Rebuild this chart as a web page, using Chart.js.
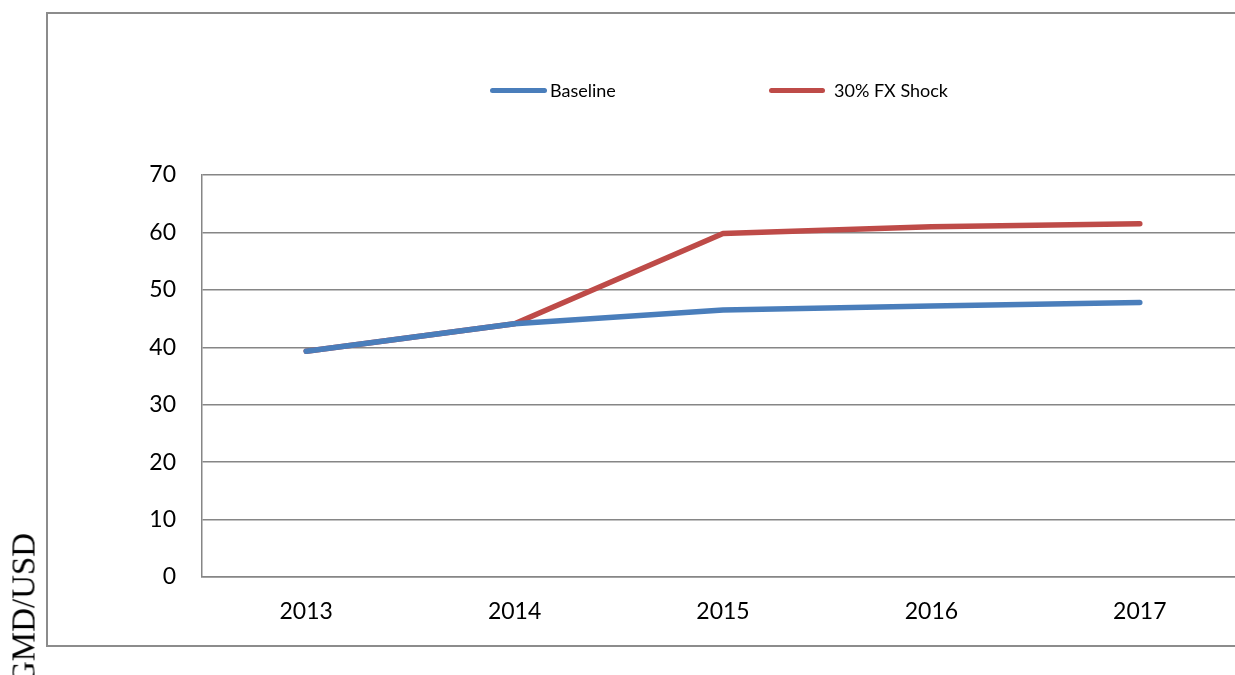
<!DOCTYPE html>
<html>
<head>
<meta charset="utf-8">
<script src="https://cdn.jsdelivr.net/npm/chart.js@4"></script>
<style>
  html, body { margin: 0; padding: 0; background: #fff; overflow: hidden; }
  body { width: 1235px; height: 675px; position: relative; }
  #frame { position: absolute; left: 46px; top: 12px; width: 1300px; height: 631px; border: 2px solid #8c8c8c; }
  #wrap { position: absolute; left: 0; top: 0; width: 1300px; height: 675px; }
  #ylabel { position: absolute; left: 24px; top: 609px; font-family: "Liberation Serif", "Times New Roman", serif;
            font-size: 33px; color: #000; white-space: nowrap; transform: translate(-50%, -50%) rotate(-90deg); }
  .leg { position: absolute; top: 79px; font-family: Lato, sans-serif; font-size: 18px; line-height: 22px; color: #000; }
  .leg .ln { position: absolute; top: 9px; height: 5px; border-radius: 3px; }
</style>
</head>
<body>
<div id="frame"></div>
<div id="wrap"><canvas id="chart" width="1300" height="675"></canvas></div>
<div id="ylabel">GMD/USD</div>
<div class="leg" style="left:490px"><span class="ln" style="left:0;width:57px;background:#4a7ebb"></span><span style="margin-left:60px">Baseline</span></div>
<div class="leg" style="left:769px"><span class="ln" style="left:0;width:56px;background:#be4b48"></span><span style="margin-left:65px">30% FX Shock</span></div>
<script>
const years = ['2013', '2014', '2015', '2016', '2017'];
const baseline = [39.3, 44.1, 46.5, 47.2, 47.8];
const fxShock = [39.3, 44.1, 59.8, 61.0, 61.5];
const yTicks = [0, 10, 20, 30, 40, 50, 60, 70];

const gridGray = '#868686';

new Chart(document.getElementById('chart'), {
    type: 'line',
    data: {
        labels: years,
        datasets: [
            { label: 'Baseline', data: baseline, borderColor: '#4a7ebb', borderWidth: 5.5, borderCapStyle: 'round', borderJoinStyle: 'round', pointRadius: 0, tension: 0 },
            { label: '30% FX Shock', data: fxShock, borderColor: '#be4b48', borderWidth: 5.5, borderCapStyle: 'round', borderJoinStyle: 'round', pointRadius: 0, tension: 0 }
        ]
    },
    options: {
        responsive: false,
        animation: false,
        layout: { padding: { left: 142, top: 175, right: 56, bottom: 38 } },
        plugins: { legend: { display: false }, tooltip: { enabled: false } },
        scales: {
            x: {
                offset: true,
                grid: { display: false, drawTicks: false },
                border: { color: gridGray, width: 1.5 },
                ticks: { color: '#000', padding: 21, font: { family: 'Lato', size: 23 } },
                afterFit: (s) => { s.height = 60; }
            },
            y: {
                min: 0, max: 70,
                afterBuildTicks: (s) => { s.ticks = yTicks.map(v => ({ value: v })); },
                grid: { color: gridGray, lineWidth: 1.5, drawTicks: false },
                border: { color: gridGray, width: 1.5 },
                ticks: { color: '#000', padding: 26, font: { family: 'Lato', size: 23 } },
                afterFit: (s) => { s.width = 60; }
            }
        }
    }
});
</script>
</body>
</html>
